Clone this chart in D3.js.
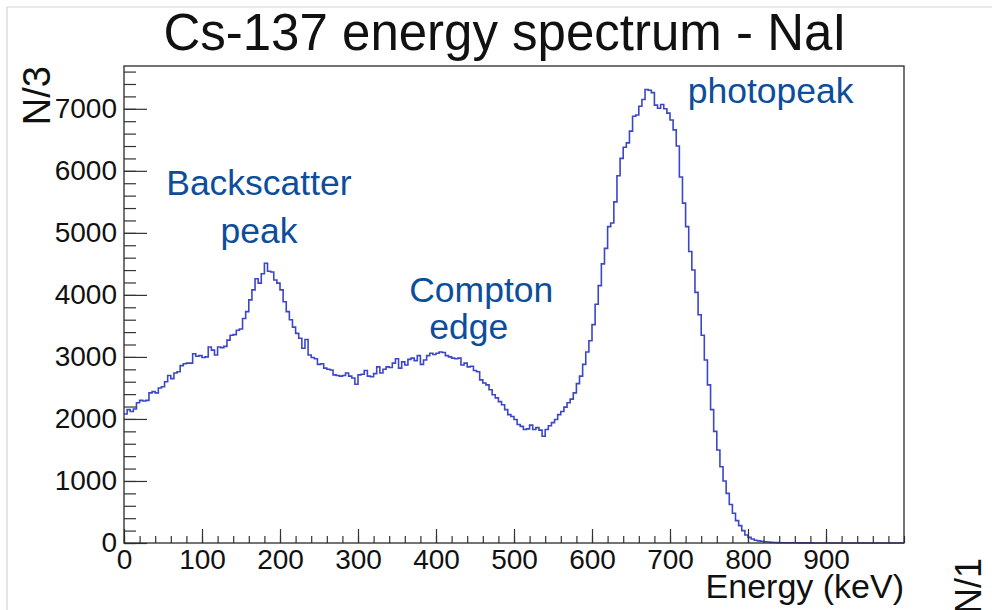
<!DOCTYPE html>
<head>
<meta charset="utf-8">
<title>Cs-137 energy spectrum - NaI</title>
<style>
body {
  margin: 0;
  padding: 0;
  background: #fff;
  font-family: "Liberation Sans", Arial, Helvetica, sans-serif;
}
.tick text {
  font-family: "Liberation Sans", Arial, Helvetica, sans-serif;
  fill: #111;
}
.tick line {
  stroke: #333;
  stroke-width: 1.2;
}
</style>
</head>
<body>
<svg id="viz" width="992" height="610"></svg>
<script src="https://d3js.org/d3.v7.min.js"></script>
<script>

// histogram contents, 4 keV bins from 0 to 1000 keV
var energyMin = 0, energyMax = 1000
var counts = [
  2080, 2150, 2120, 2160, 2260, 2300, 2290, 2300, 2420, 2440,
  2420, 2500, 2520, 2600, 2700, 2650, 2740, 2760, 2860, 2890,
  2900, 2900, 3050, 3010, 3020, 2990, 3000, 3160, 3110, 3030,
  3160, 3150, 3170, 3270, 3350, 3360, 3430, 3450, 3620, 3730,
  3920, 4080, 4260, 4190, 4340, 4510, 4380, 4370, 4240, 4190,
  4080, 3890, 3730, 3600, 3480, 3380, 3300, 3140, 3280, 3030,
  2990, 2970, 2880, 2890, 2820, 2800, 2790, 2710, 2700, 2690,
  2700, 2740, 2690, 2660, 2560, 2710, 2720, 2780, 2690, 2680,
  2730, 2840, 2740, 2800, 2840, 2830, 2900, 2970, 2820, 2920,
  2870, 2960, 2980, 2940, 3020, 2880, 2950, 3020, 3060, 3040,
  3060, 3080, 3070, 3020, 3000, 2980, 2970, 2980, 2870, 2900,
  2840, 2850, 2780, 2760, 2630, 2580, 2550, 2470, 2390, 2340,
  2280, 2230, 2150, 2070, 2040, 1990, 1910, 1880, 1830, 1840,
  1900, 1830, 1860, 1820, 1720, 1830, 1890, 1940, 1990, 2070,
  2120, 2190, 2260, 2320, 2420, 2570, 2690, 2880, 3080, 3260,
  3520, 3850, 4150, 4500, 4750, 5100, 5160, 5500, 5920, 6200,
  6380, 6450, 6640, 6880, 6900, 7040, 7150, 7310, 7300, 7260,
  7060, 7010, 7070, 7000, 6930, 6820, 6660, 6400, 5900, 5480,
  5100, 4700, 4400, 4040, 3680, 3350, 2950, 2550, 2150, 1800,
  1500, 1230, 1000, 800, 620, 480, 360, 280, 200, 130,
  90, 65, 45, 35, 28, 20, 15, 10, 8, 6,
  5, 4, 4, 3, 3, 3, 2, 2, 2, 2,
  2, 1, 1, 1, 1, 1, 1, 1, 1, 1,
  1, 1, 0, 1, 0, 1, 0, 0, 1, 0,
  0, 0, 1, 0, 0, 0, 0, 0, 0, 0
]
var yMax = 7690

var xTickValues = [0, 100, 200, 300, 400, 500, 600, 700, 800, 900]
var yTickValues = [0, 1000, 2000, 3000, 4000, 5000, 6000, 7000]
var xMinorStep = 20, yMinorStep = 200

var titleText = 'Cs-137 energy spectrum - NaI'
var xTitle = 'Energy (keV)'
var yTitle = 'N/3'
var strayTitle = 'N/1'

// annotation texts, placed in data units (keV, counts)
var noteTexts = ['Backscatter', 'peak', 'Compton', 'edge', 'photopeak']
var noteEnergy = [173, 173, 458, 442, 829]
var noteCounts = [5613, 4839, 3887, 3290, 7097]

var svg = d3.select('#viz')
var frame = { left: 124, right: 904, top: 66, bottom: 543 }

var x = d3.scaleLinear().domain([energyMin, energyMax]).range([frame.left, frame.right])
var y = d3.scaleLinear().domain([0, yMax]).range([frame.bottom, frame.top])

// light page border
svg.append('line').attr('x1', 7).attr('y1', 7).attr('x2', 992).attr('y2', 7)
  .attr('stroke', '#d4d4d4').attr('stroke-width', 1.2)
svg.append('line').attr('x1', 7).attr('y1', 7).attr('x2', 7).attr('y2', 610)
  .attr('stroke', '#d4d4d4').attr('stroke-width', 1.2)

// histogram as a step line
var edges = d3.range(counts.length + 1).map(function(i) {
  return energyMin + i * (energyMax - energyMin) / counts.length
})
var points = counts.map(function(c, i) { return [edges[i], c] })
points.push([edges[edges.length - 1], counts[counts.length - 1]])

var line = d3.line()
  .x(function(d) { return x(d[0]) })
  .y(function(d) { return y(d[1]) })
  .curve(d3.curveStepAfter)

svg.append('path')
  .datum(points)
  .attr('fill', 'none')
  .attr('stroke', '#3c46c8')
  .attr('stroke-width', 1.6)
  .attr('d', line)

// axes, ticks pointing into the frame
svg.append('g')
  .attr('transform', 'translate(0,' + frame.bottom + ')')
  .call(d3.axisBottom(x).tickValues(d3.range(energyMin, energyMax + 1, xMinorStep)).tickSize(-7).tickFormat(''))
  .call(function(g) { g.select('.domain').remove() })

svg.append('g')
  .attr('transform', 'translate(0,' + frame.bottom + ')')
  .call(d3.axisBottom(x).tickValues(xTickValues).tickSize(-14).tickPadding(6))
  .call(function(g) { g.select('.domain').remove() })
  .selectAll('text').attr('font-size', 28)

svg.append('g')
  .attr('transform', 'translate(' + frame.left + ',0)')
  .call(d3.axisLeft(y).tickValues(d3.range(0, yMax, yMinorStep)).tickSize(-12).tickFormat(''))
  .call(function(g) { g.select('.domain').remove() })

svg.append('g')
  .attr('transform', 'translate(' + frame.left + ',0)')
  .call(d3.axisLeft(y).tickValues(yTickValues).tickSize(-23).tickPadding(7).tickFormat(d3.format('d')))
  .call(function(g) { g.select('.domain').remove() })
  .selectAll('text').attr('font-size', 28)

// frame
svg.append('rect')
  .attr('x', frame.left).attr('y', frame.top)
  .attr('width', frame.right - frame.left).attr('height', frame.bottom - frame.top)
  .attr('fill', 'none').attr('stroke', '#2a2a2a').attr('stroke-width', 1.3)

// titles
svg.append('text')
  .attr('x', 505).attr('y', 50)
  .attr('text-anchor', 'middle')
  .attr('font-size', 51)
  .attr('fill', '#111')
  .text(titleText)

svg.append('text')
  .attr('x', frame.right).attr('y', 598)
  .attr('text-anchor', 'end')
  .attr('font-size', 34)
  .attr('fill', '#111')
  .text(xTitle)

svg.append('text')
  .attr('transform', 'translate(50,' + frame.top + ') rotate(-90)')
  .attr('text-anchor', 'end')
  .attr('font-size', 38)
  .attr('fill', '#111')
  .text(yTitle)

svg.append('text')
  .attr('transform', 'translate(981,614) rotate(-90)')
  .attr('text-anchor', 'start')
  .attr('font-size', 36)
  .attr('fill', '#111')
  .text(strayTitle)

// annotations
svg.selectAll('.note')
  .data(noteTexts)
  .enter().append('text')
    .attr('class', 'note')
    .attr('x', function(d, i) { return x(noteEnergy[i]) })
    .attr('y', function(d, i) { return y(noteCounts[i]) })
    .attr('text-anchor', 'middle')
    .attr('font-size', 35.5)
    .attr('fill', '#0c4d9c')
    .text(function(d) { return d })

</script>
</body>
</html>
